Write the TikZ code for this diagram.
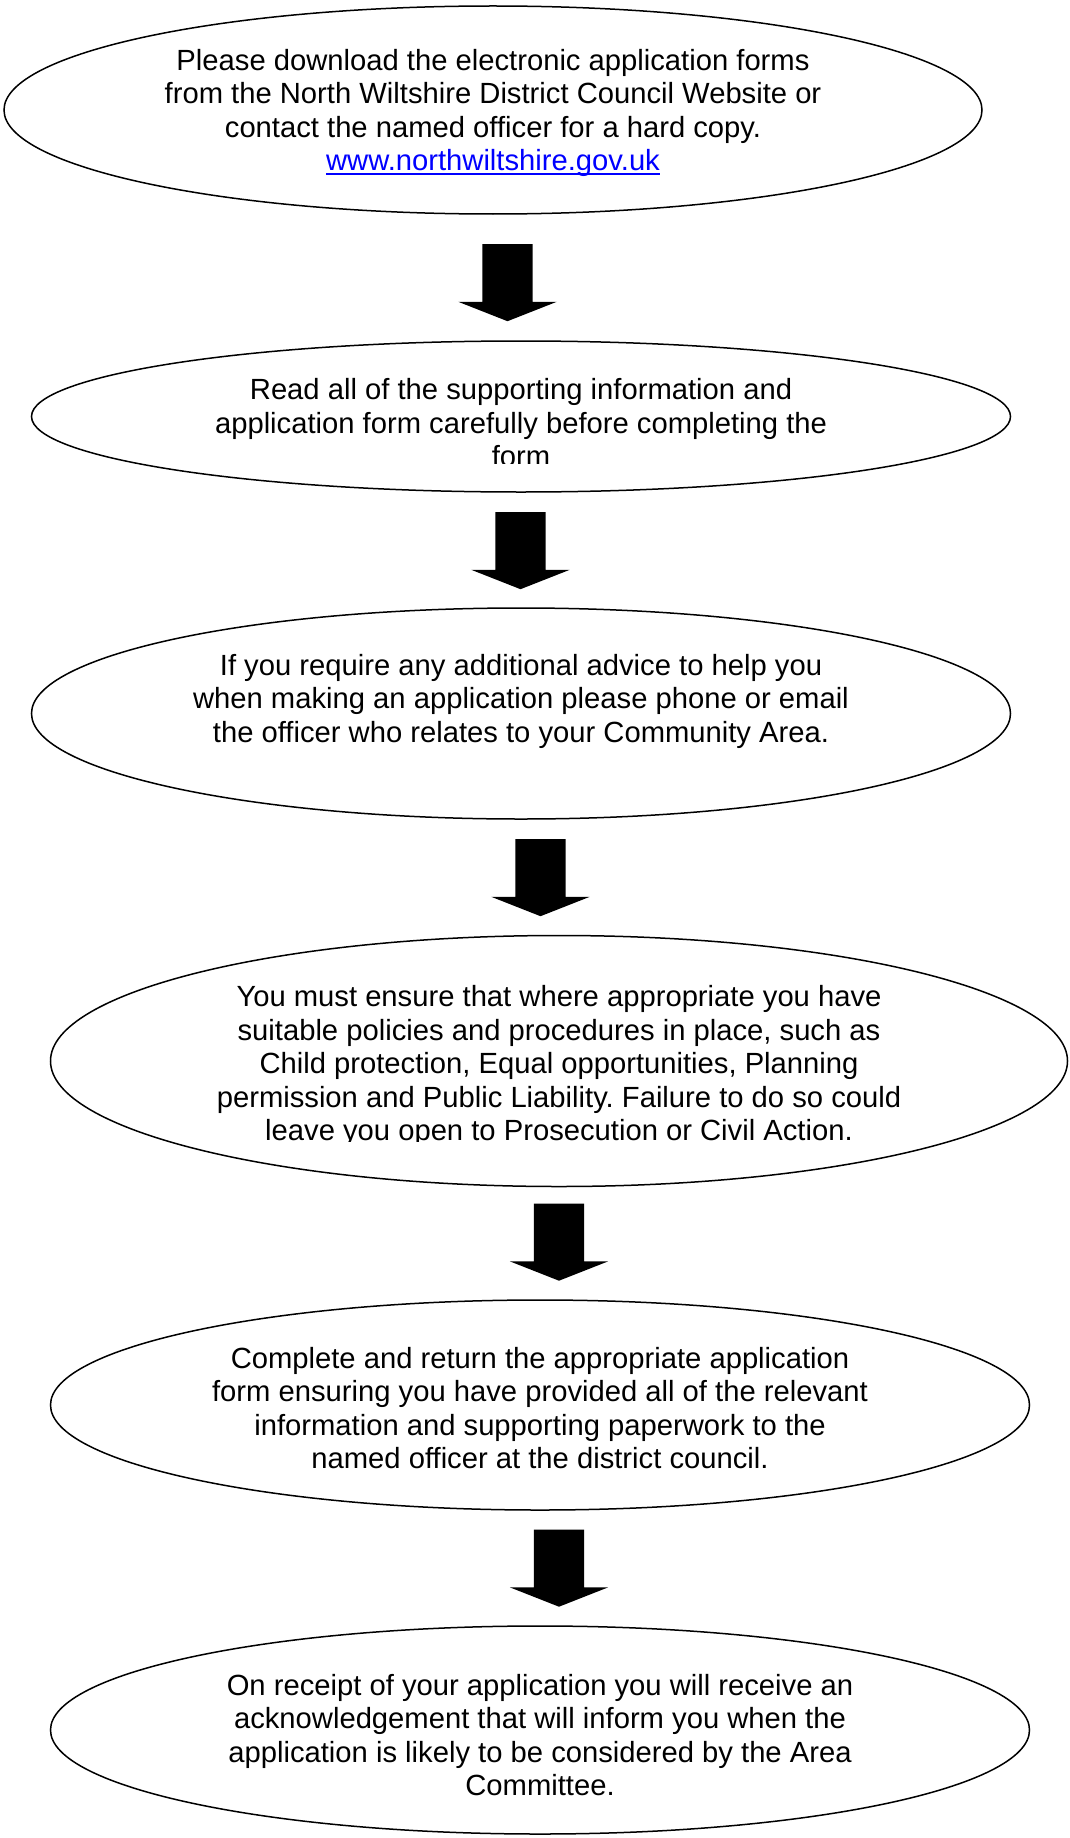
\documentclass[tikz,border=0pt]{standalone}
\usepackage{fontspec}
\setmainfont{Liberation Sans}
\usetikzlibrary{shapes.geometric,shapes.arrows}

\newcommand{\weblink}[1]{\leavevmode\setbox0=\hbox{#1}\rlap{\rule[-4.5pt]{\wd0}{2pt}}\box0}
\frenchspacing

\begin{document}
\begin{tikzpicture}[x=1pt,y=-1pt,
    bubble/.style={ellipse,draw=black,line width=1.5pt,inner sep=0pt},
    msg/.style={align=center,inner sep=0pt,font=\fontsize{29.2}{33.5}\selectfont},
    downarrow/.style={single arrow,fill=black,draw=none,rotate=-90,anchor=tail,
        inner xsep=0pt,inner ysep=25pt,minimum height=77pt,
        single arrow head extend=24pt,single arrow tip angle=137,
        single arrow head indent=0pt}]
    \useasboundingbox (0,0) rectangle (1070,1838);

    \node[bubble,minimum width=978pt,minimum height=208pt] (e1) at (493,110) {};
    \node[bubble,minimum width=979pt,minimum height=151pt] (e2) at (521,416.5) {};
    \node[bubble,minimum width=979pt,minimum height=211pt] (e3) at (521,713.5) {};
    \node[bubble,minimum width=1017pt,minimum height=251pt] (e4) at (559,1061) {};
    \node[bubble,minimum width=979pt,minimum height=210pt] (e5) at (540,1405) {};
    \node[bubble,minimum width=979pt,minimum height=208pt] (e6) at (540,1730) {};

    \node[msg] (t1) at (493,113) {Please download the electronic application forms\\
        from the North Wiltshire District Council Website or\\
        contact the named officer for a hard copy.\\
        \textcolor{blue}{\weblink{www.northwiltshire.gov.uk}}};
    \begin{scope}
        \clip (0,340) rectangle (1070,463);
        \node[msg] (t2) at (521,423) {Read all of the supporting information and\\
            application form carefully before completing the\\
            form};
    \end{scope}
    \node[msg] (t3) at (521,701) {If you require any additional advice to help you\\
        when making an application please phone or email\\
        the officer who relates to your Community Area.};
    \begin{scope}
        \clip (0,930) rectangle (1070,1141);
        \node[msg] (t4) at (559,1066) {You must ensure that where appropriate you have\\
            suitable policies and procedures in place, such as\\
            Child protection, Equal opportunities, Planning\\
            permission and Public Liability. Failure to do so could\\
            leave you open to Prosecution or Civil Action.};
    \end{scope}
    \node[msg] (t5) at (540,1408) {Complete and return the appropriate application\\
        form ensuring you have provided all of the relevant\\
        information and supporting paperwork to the\\
        named officer at the district council.};
    \node[msg] (t6) at (540,1735) {On receipt of your application you will receive an\\
        acknowledgement that will inform you when the\\
        application is likely to be considered by the Area\\
        Committee.};

    \node[downarrow] (a1) at (507.5,244) {};
    \node[downarrow] (a2) at (520.5,512) {};
    \node[downarrow] (a3) at (540.5,839) {};
    \node[downarrow] (a4) at (559,1203.5) {};
    \node[downarrow] (a5) at (559,1529.5) {};

\end{tikzpicture}
\end{document}
